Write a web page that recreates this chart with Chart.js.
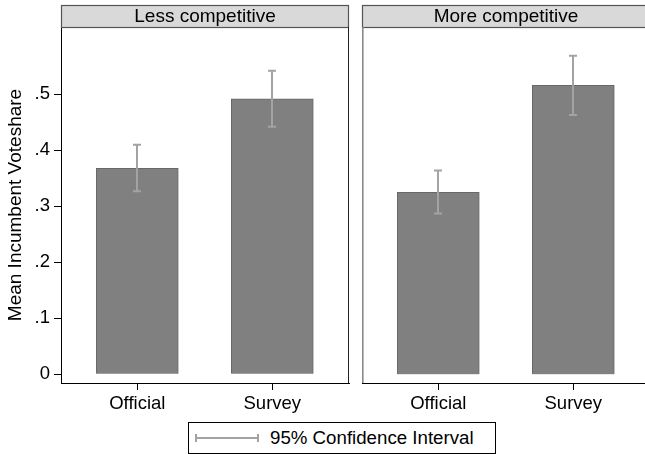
<!DOCTYPE html>
<html>
<head>
<meta charset="utf-8">
<script src="https://cdn.jsdelivr.net/npm/chart.js@4.4.1/dist/chart.umd.min.js"></script>
<style>
  html, body { margin: 0; padding: 0; background: #fff; overflow: hidden; }
  body { width: 645px; height: 454px; position: relative; font-family: "Liberation Sans", Arial, Helvetica, sans-serif; }
  .panel { position: absolute; top: 0; }
  #legend {
    position: absolute; left: 188px; top: 422px; width: 306px; height: 30px;
    border: 1px solid #000; box-sizing: content-box; background: #fff;
  }
  #legend .sym { position: absolute; left: 6px; top: 10px; width: 64px; height: 10px; }
  #legend .txt { position: absolute; left: 81px; top: 4px; font-size: 18.7px; color: #000; white-space: nowrap; }
</style>
</head>
<body>
<div class="panel" style="left:0;width:352px;height:440px"><canvas id="less"></canvas></div>
<div class="panel" style="left:352px;width:300px;height:440px"><canvas id="more"></canvas></div>
<div id="legend">
  <svg class="sym" width="64" height="10" viewBox="0 0 64 10">
    <line x1="1" y1="5" x2="64" y2="5" stroke="#a3a3a3" stroke-width="2"/>
    <line x1="1" y1="1" x2="1" y2="9" stroke="#a3a3a3" stroke-width="2"/>
    <line x1="63" y1="1" x2="63" y2="9" stroke="#a3a3a3" stroke-width="2"/>
  </svg>
  <span class="txt">95% Confidence Interval</span>
</div>
<script>
// Categories and panel names
const categories = ['Official', 'Survey'];
const panelTitles = ['Less competitive', 'More competitive'];
const yTicks = [0, 0.1, 0.2, 0.3, 0.4, 0.5];

// Mean incumbent voteshare with 95% CI bounds
const lessMean = [0.368, 0.492];
const lessLow  = [0.327, 0.442];
const lessHigh = [0.410, 0.542];

const moreMean = [0.325, 0.516];
const moreLow  = [0.287, 0.463];
const moreHigh = [0.364, 0.569];

const FAMILY = '"Liberation Sans", Arial, Helvetica, sans-serif';
const TICK_SIZE = 18.5;
const TITLE_SIZE = 19;
Chart.defaults.color = '#000';
Chart.defaults.font.family = FAMILY;
Chart.defaults.font.size = TICK_SIZE;

const Y_MIN = -0.0155, Y_MAX = 0.6202;
const X_MIN = -0.565, X_MAX = 1.568;
const STRIP_TOP = 5;

// Header strip, panel frame and CI whiskers
const panelDecor = {
  id: 'panelDecor',
  afterDraw(chart, args, opts) {
    const { ctx, chartArea: a, scales } = chart;
    ctx.save();
    // strip
    ctx.fillStyle = '#d9d9d9';
    ctx.fillRect(a.left, STRIP_TOP, a.right - a.left, a.top - STRIP_TOP);
    ctx.strokeStyle = '#555';
    ctx.lineWidth = 1.2;
    ctx.strokeRect(a.left + 0.5, STRIP_TOP + 0.5, a.right - a.left - 1, a.top - STRIP_TOP);
    ctx.fillStyle = '#000';
    ctx.font = `${TITLE_SIZE}px ${FAMILY}`;
    ctx.textAlign = 'center';
    ctx.textBaseline = 'middle';
    ctx.fillText(opts.title, (a.left + a.right) / 2, (STRIP_TOP + a.top) / 2 + 1);
    // side borders of the plot box
    ctx.lineWidth = 1;
    if (opts.rightBorder) {
      ctx.strokeStyle = '#222';
      ctx.beginPath(); ctx.moveTo(a.right - 0.5, a.top); ctx.lineTo(a.right - 0.5, a.bottom); ctx.stroke();
    }
    if (opts.leftBorder) {
      ctx.strokeStyle = '#8a8a8a';
      ctx.lineWidth = 1.6;
      ctx.beginPath(); ctx.moveTo(a.left + 0.8, a.top); ctx.lineTo(a.left + 0.8, a.bottom); ctx.stroke();
    }
    // confidence intervals
    const meta = chart.getDatasetMeta(0);
    const y = scales.y;
    ctx.strokeStyle = '#a3a3a3';
    ctx.lineWidth = 2;
    meta.data.forEach((bar, i) => {
      const x = Math.round(bar.x);
      const yl = y.getPixelForValue(opts.low[i]);
      const yh = y.getPixelForValue(opts.high[i]);
      ctx.beginPath();
      ctx.moveTo(x, yl); ctx.lineTo(x, yh);
      ctx.moveTo(x - 4, yl); ctx.lineTo(x + 4, yl);
      ctx.moveTo(x - 4, yh); ctx.lineTo(x + 4, yh);
      ctx.stroke();
    });
    ctx.restore();
  }
};

function makePanel(id, means, low, high, title, showY, padLeft, padRight) {
  return new Chart(document.getElementById(id), {
    type: 'bar',
    data: {
      datasets: [{
        data: means.map((v, i) => ({ x: i, y: v })),
        backgroundColor: '#808080',
        borderColor: '#686868',
        borderWidth: 1,
        barThickness: 82
      }]
    },
    options: {
      responsive: true,
      maintainAspectRatio: false,
      animation: false,
      layout: { padding: { top: 27, left: padLeft, right: padRight, bottom: 0 } },
      plugins: {
        legend: { display: false },
        tooltip: { enabled: false },
        panelDecor: { title, low, high, rightBorder: showY, leftBorder: !showY }
      },
      scales: {
        x: {
          type: 'linear',
          offset: false,
          min: X_MIN, max: X_MAX,
          afterBuildTicks: s => { s.ticks = [{ value: 0 }, { value: 1 }]; },
          afterFit: s => { s.height = 57; },
          ticks: { autoSkip: false, maxRotation: 0, padding: 3, callback: v => categories[v] },
          grid: { offset: false, drawOnChartArea: false, tickLength: 7, tickColor: '#000', tickWidth: 1 },
          border: { color: '#000', width: 1 }
        },
        y: {
          display: showY,
          min: Y_MIN, max: Y_MAX,
          afterBuildTicks: s => { s.ticks = yTicks.map(v => ({ value: v })); },
          afterFit: s => { if (showY) s.width = 61; },
          ticks: {
            padding: 4,
            callback: v => v === 0 ? '0' : String(v.toFixed(1)).replace(/^0/, '')
          },
          grid: { drawOnChartArea: false, tickLength: 7, tickColor: '#000', tickWidth: 1 },
          border: { color: '#000', width: 1 },
          title: {
            display: showY, text: 'Mean Incumbent Voteshare',
            font: { size: TITLE_SIZE }, padding: { top: 4, bottom: 0 }
          }
        }
      }
    },
    plugins: [panelDecor]
  });
}

makePanel('less', lessMean, lessLow, lessHigh, panelTitles[0], true, 0, 3);
makePanel('more', moreMean, moreLow, moreHigh, panelTitles[1], false, 10, 2);
</script>
</body>
</html>
